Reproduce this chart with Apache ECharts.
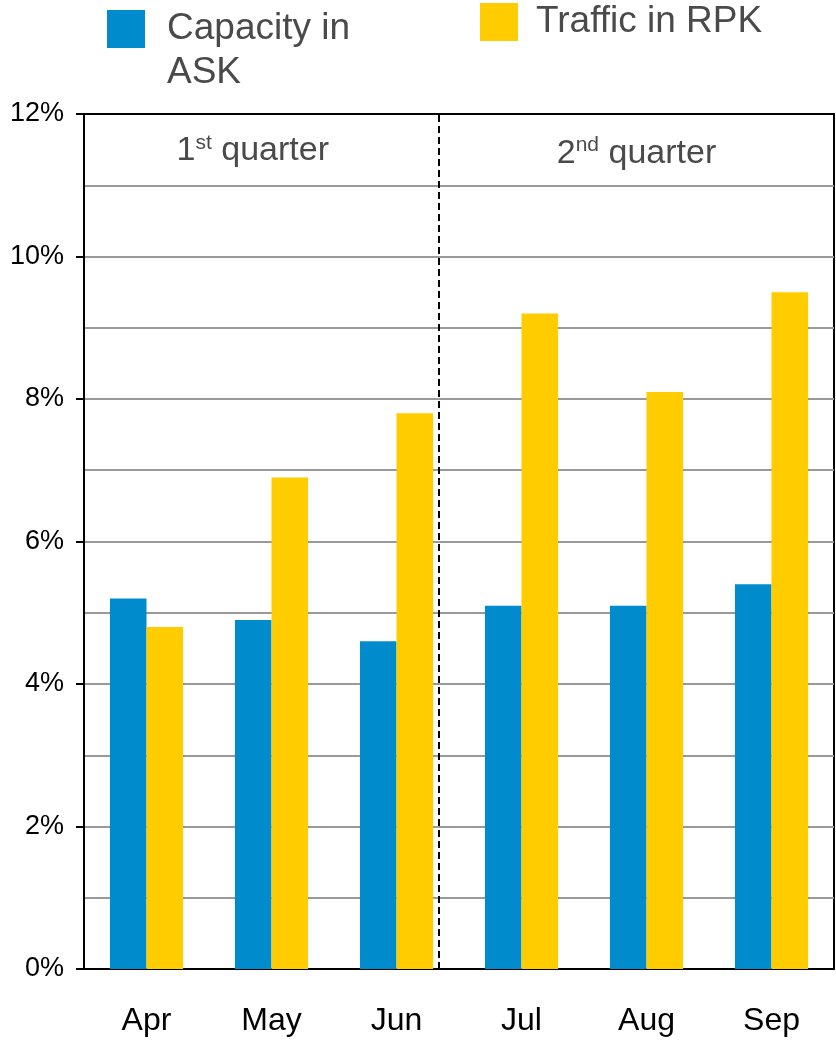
<!DOCTYPE html>
<html>
<head>
<meta charset="utf-8">
<script src="https://cdn.jsdelivr.net/npm/echarts@6/dist/echarts.min.js"></script>
<style>
  html, body { margin: 0; padding: 0; background: #fff; }
  #chart { width: 836px; height: 1040px; }
</style>
</head>
<body>
<div id="chart"></div>
<script>
// Monthly year-on-year growth, percent
const months = ['Apr', 'May', 'Jun', 'Jul', 'Aug', 'Sep'];
const capacityASK = [5.2, 4.9, 4.6, 5.1, 5.1, 5.4];
const trafficRPK = [4.8, 6.9, 7.8, 9.2, 8.1, 9.5];
const seriesNames = ['Capacity in ASK', 'Traffic in RPK'];

// Quarter header band (between 11% and 12%) and divider, placed on a 0..6 month scale
const quarterDivider = 2.84;
const quarterLabels = [
  { x: 1.35, y: 11.49, num: '1', sup: 'st' },
  { x: 4.42, y: 11.45, num: '2', sup: 'nd' }
];

const FONT = '"Liberation Sans", Arial, Helvetica, sans-serif';
const BLUE = '#008CCC';
const YELLOW = '#FFCC00';
const GRID_GREY = '#999999';
const TEXT_GREY = '#4a4a4a';

const chart = echarts.init(document.getElementById('chart'), null, { renderer: 'canvas' });

chart.setOption({
  animation: false,
  backgroundColor: '#fff',
  textStyle: { fontFamily: FONT },
  legend: [
    {
      data: [seriesNames[0]],
      left: 102, top: -42,
      itemWidth: 38, itemHeight: 38,
      icon: 'rect',
      selectedMode: false,
      // leading blank line keeps the first text line level with the swatch
      formatter: () => ' \nCapacity in\nASK',
      textStyle: {
        fontFamily: FONT, fontSize: 37, color: TEXT_GREY,
        lineHeight: 44, padding: [0, 0, 0, 17]
      }
    },
    {
      data: [seriesNames[1]],
      left: 475, top: -2,
      itemWidth: 38, itemHeight: 38,
      icon: 'rect',
      selectedMode: false,
      textStyle: {
        fontFamily: FONT, fontSize: 37, color: TEXT_GREY,
        padding: [0, 0, 0, 13]
      }
    }
  ],
  grid: {
    left: 84, right: 2, top: 114, bottom: 71,
    show: true, borderColor: '#000', borderWidth: 2, backgroundColor: 'transparent'
  },
  xAxis: [
    {
      type: 'category',
      data: months,
      axisLine: { lineStyle: { color: '#000', width: 2 } },
      axisTick: { show: false },
      axisLabel: { fontFamily: FONT, fontSize: 32, color: '#000', margin: 36 }
    },
    {
      type: 'value', min: 0, max: 6, show: false
    }
  ],
  yAxis: {
    type: 'value',
    min: 0, max: 12, interval: 2,
    axisLine: { show: true, lineStyle: { color: '#000', width: 2 } },
    axisTick: { show: true, length: 8, lineStyle: { color: '#000', width: 2 } },
    axisLabel: {
      fontFamily: FONT, fontSize: 27, color: '#000', margin: 20,
      formatter: v => v + '%'
    },
    splitLine: { show: true, showMaxLine: false, showMinLine: false, lineStyle: { color: GRID_GREY, width: 2 } },
    minorTick: { show: false, splitNumber: 2 },
    minorSplitLine: { show: true, lineStyle: { color: GRID_GREY, width: 2 } }
  },
  series: [
    {
      name: seriesNames[0],
      type: 'bar',
      data: capacityASK,
      itemStyle: { color: BLUE },
      barGap: '0%',
      barCategoryGap: '41.5%'
    },
    {
      name: seriesNames[1],
      type: 'bar',
      data: trafficRPK,
      itemStyle: { color: YELLOW },
      barGap: '0%',
      barCategoryGap: '41.5%'
    },
    {
      // quarter headings and the dashed divider between the quarters
      type: 'scatter',
      xAxisIndex: 1,
      symbolSize: 0,
      silent: true,
      itemStyle: { opacity: 1 },
      data: quarterLabels.map(q => ({
        value: [q.x, q.y],
        label: {
          show: true,
          position: 'inside',
          formatter: q.num + '{s|' + q.sup + '} quarter',
          fontFamily: FONT, fontSize: 34, color: TEXT_GREY, lineHeight: 36,
          rich: {
            s: { fontFamily: FONT, fontSize: 21, color: TEXT_GREY, lineHeight: 21, verticalAlign: 'top' }
          }
        }
      })),
      markLine: {
        silent: true,
        symbol: ['none', 'none'],
        label: { show: false },
        lineStyle: { color: '#000', width: 2, type: [7, 4] },
        data: [{ xAxis: quarterDivider }]
      },
      z: 5
    }
  ]
});
</script>
</body>
</html>
